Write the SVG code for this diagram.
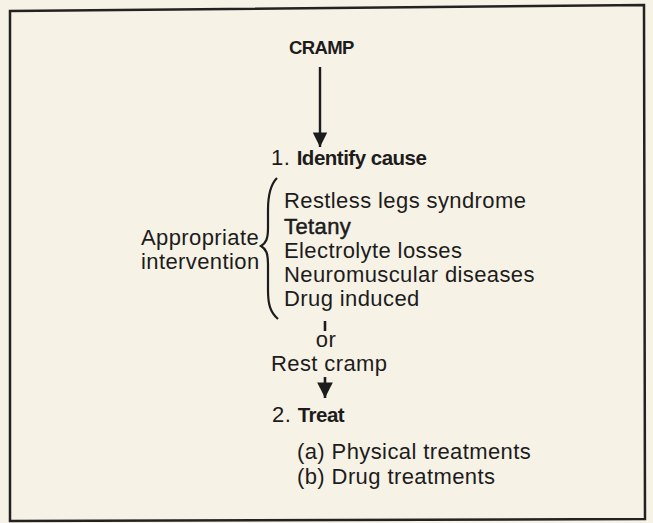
<svg xmlns="http://www.w3.org/2000/svg" width="653" height="523" viewBox="0 0 653 523">
<style>
  .t { font-family: "Liberation Sans", Arial, sans-serif; font-size: 22px; letter-spacing: 0.4px; fill: #1c1c1c; }
  .b { font-weight: bold; font-size: 20.5px; letter-spacing: -0.5px; }
  .m { stroke: #1c1c1c; stroke-width: 0.5px; }
  .ln { stroke: #1c1c1c; fill: none; }
</style>
<defs>
  <marker id="ah" viewBox="0 0 10 10" refX="10" refY="5" markerWidth="7" markerHeight="6" orient="auto" markerUnits="strokeWidth">
    <path d="M0,0 L10,5 L0,10 Z" fill="#1c1c1c"/>
  </marker>
</defs>
<rect x="0" y="0" width="653" height="523" fill="#f7f2e6"/>
<polygon points="10,11 644,5 645,519 10,521" fill="none" stroke="#222" stroke-width="2.5"/>

<g id="connectors">
  <line class="ln" x1="320" y1="67" x2="320" y2="147" stroke-width="2.4" marker-end="url(#ah)"/>
  <line class="ln" x1="325" y1="321" x2="325" y2="331" stroke-width="2.6"/>
  <line class="ln" x1="325" y1="377" x2="325" y2="398" stroke-width="2.6" marker-end="url(#ah)"/>
</g>

<g id="cramp">
  <text class="t b" x="289" y="54" style="font-size:18.5px;letter-spacing:-0.6px">CRAMP</text>
</g>

<g id="identify">
  <text class="t" x="271" y="165">1. <tspan class="b">Identify cause</tspan></text>
</g>

<g id="causes">
  <path class="ln" stroke-width="2.2" d="M277,178 C270,185 268,195 268,210 L268,228 C268,239 266,243 261,246 C266,249 268,253 268,264 L268,290 C268,304 270,312 278,319"/>
  <text class="t" x="284" y="208">Restless legs syndrome</text>
  <text class="t m" x="284" y="234">Tetany</text>
  <text class="t" x="284" y="258">Electrolyte losses</text>
  <text class="t" x="284" y="282">Neuromuscular diseases</text>
  <text class="t" x="284" y="306">Drug induced</text>
</g>

<g id="intervention">
  <text class="t" x="141" y="245">Appropriate</text>
  <text class="t" x="141" y="269">intervention</text>
</g>

<g id="rest">
  <text class="t" x="326" y="347" text-anchor="middle">or</text>
  <text class="t" x="271" y="371">Rest cramp</text>
</g>

<g id="treat">
  <text class="t" x="272" y="422">2. <tspan class="b">Treat</tspan></text>
  <text class="t" x="297" y="459">(a) Physical treatments</text>
  <text class="t" x="297" y="484">(b) Drug treatments</text>
</g>
</svg>
